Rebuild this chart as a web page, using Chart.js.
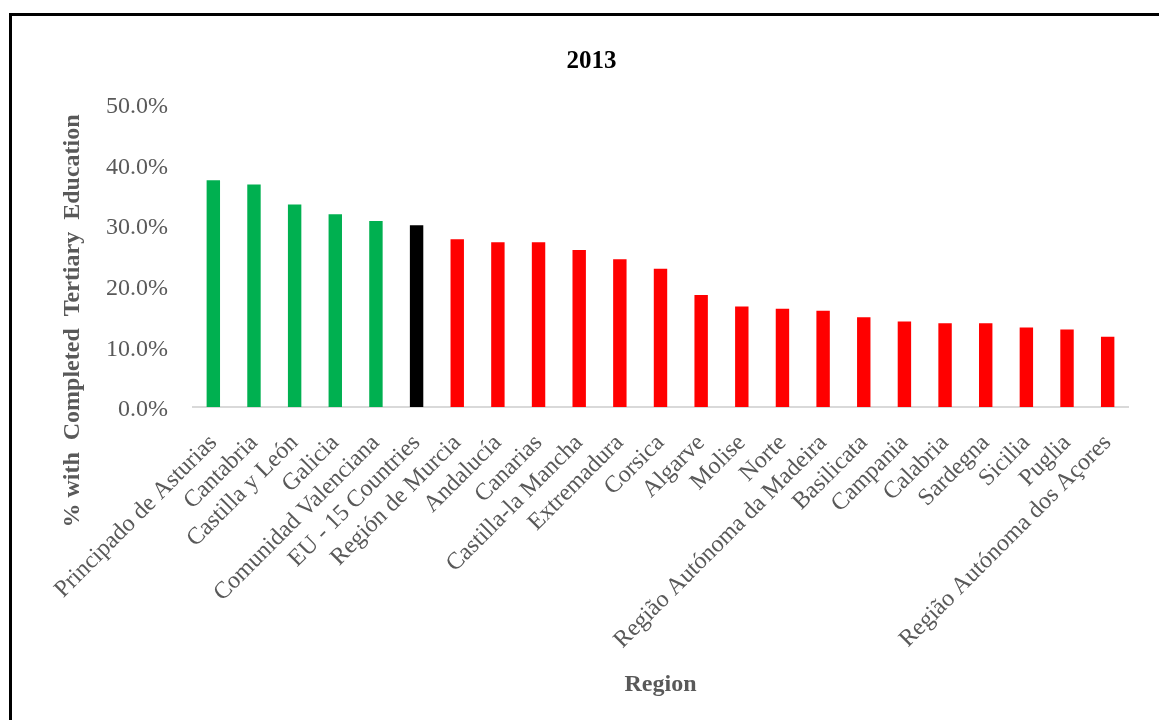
<!DOCTYPE html>
<html>
<head>
<meta charset="utf-8">
<title>2013</title>
<script src="https://cdn.jsdelivr.net/npm/chart.js@4"></script>
<style>
  html, body { margin: 0; background: #fff; overflow: hidden; }
  #marco {
    position: absolute; left: 9px; top: 13px;
    width: 1200px; height: 760px;
    border-left: 3px solid #000; border-top: 3px solid #000;
  }
  #grafica { display: block; }
</style>
</head>
<body>
<div id="marco"><canvas id="grafica" width="1156" height="704"></canvas></div>
<script>
// Regiones ordenadas de mayor a menor porcentaje
const regiones = [
    'Principado de Asturias', 'Cantabria', 'Castilla y León', 'Galicia',
    'Comunidad Valenciana', 'EU - 15 Countries', 'Región de Murcia', 'Andalucía',
    'Canarias', 'Castilla-la Mancha', 'Extremadura', 'Corsica', 'Algarve',
    'Molise', 'Norte', 'Região Autónoma da Madeira', 'Basilicata', 'Campania',
    'Calabria', 'Sardegna', 'Sicilia', 'Puglia', 'Região Autónoma dos Açores'
];
// % con educación terciaria completada (2013)
const porcentajes = [
    37.4, 36.7, 33.4, 31.8, 30.7, 30.0, 27.7, 27.2, 27.2, 25.9, 24.4, 22.8,
    18.5, 16.6, 16.2, 15.9, 14.8, 14.1, 13.8, 13.8, 13.1, 12.8, 11.6
];
// Marcas del eje vertical
const ejeY = { min: 0, max: 50, paso: 10 };

const referencia = 'EU - 15 Countries';
const tituloY = '% with  Completed  Tertiary  Education';
const VERDE = '#00b050', NEGRO = '#000000', ROJO = '#ff0000';
const GRIS = '#595959';
const FUENTE = "'Liberation Serif', 'Times New Roman', serif";

// Verde por encima de la media UE-15, negro para la media y rojo por debajo
const idxRef = regiones.indexOf(referencia);
const colores = regiones.map((r, i) => i < idxRef ? VERDE : (i === idxRef ? NEGRO : ROJO));

// Título del eje Y colocado a mano (va desplazado hacia abajo respecto al eje)
const tituloEjeY = {
    id: 'tituloEjeY',
    afterDraw(chart) {
        const c = chart.ctx;
        c.save();
        c.translate(61, 305);
        c.rotate(-Math.PI / 2);
        c.fillStyle = GRIS;
        c.font = 'bold 24px ' + FUENTE;
        c.textAlign = 'center';
        c.textBaseline = 'middle';
        c.fillText(tituloY, 0, 0);
        c.restore();
    }
};

const ctx = document.getElementById('grafica');
new Chart(ctx, {
    type: 'bar',
    data: {
        labels: regiones,
        datasets: [{
            data: porcentajes,
            backgroundColor: colores,
            borderWidth: 0,
            barPercentage: 0.33,
            categoryPercentage: 1
        }]
    },
    options: {
        responsive: false,
        animation: false,
        layout: {
            padding: { left: 43, top: 10, right: 40, bottom: 17 }
        },
        plugins: {
            legend: { display: false },
            tooltip: { enabled: false },
            title: {
                display: true,
                text: '2013',
                color: '#000',
                font: { family: FUENTE, size: 25, weight: 'bold' },
                padding: { top: 21, bottom: 27 }
            }
        },
        scales: {
            x: {
                grid: { display: true, drawOnChartArea: false, drawTicks: false },
                border: { display: true, color: '#d9d9d9', width: 2 },
                ticks: {
                    color: GRIS,
                    font: { family: FUENTE, size: 24 },
                    minRotation: 45,
                    maxRotation: 45,
                    autoSkip: false,
                    padding: 22
                },
                title: {
                    display: true,
                    text: 'Region',
                    color: GRIS,
                    font: { family: FUENTE, size: 24, weight: 'bold' },
                    padding: 4
                },
                afterFit: (escala) => { escala.height = 296; }
            },
            y: {
                min: ejeY.min,
                max: ejeY.max,
                grid: { display: false },
                border: { display: false },
                ticks: {
                    stepSize: ejeY.paso,
                    color: GRIS,
                    font: { family: FUENTE, size: 24 },
                    padding: 17,
                    labelOffset: 3,
                    callback: (v) => v.toFixed(1) + '%'
                },
                afterFit: (escala) => { escala.width = 138; }
            }
        }
    },
    plugins: [tituloEjeY]
});
</script>
</body>
</html>
